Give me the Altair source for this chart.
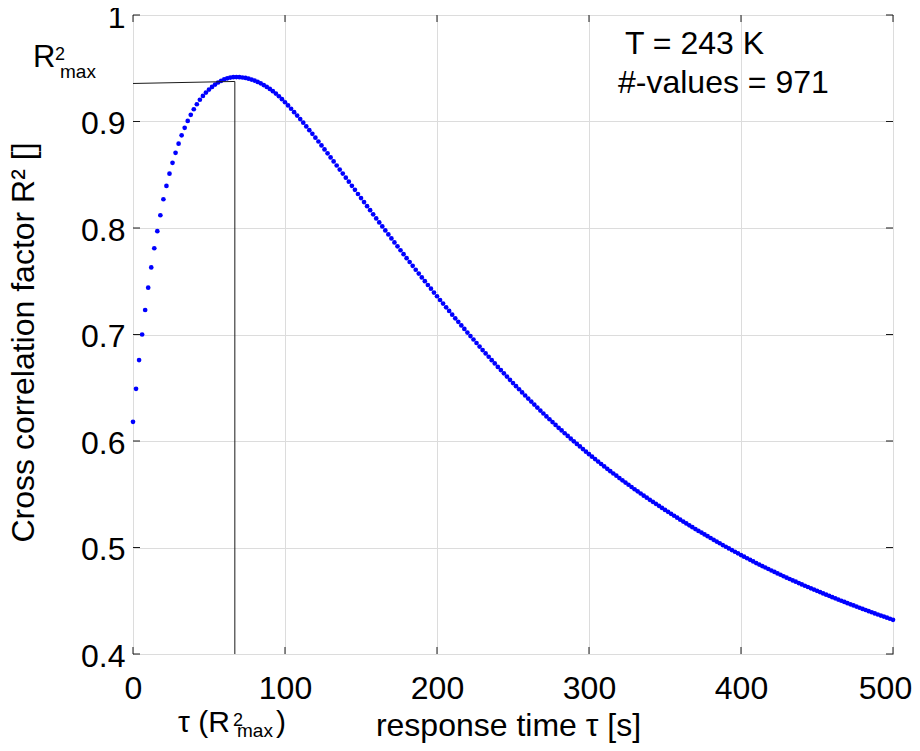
import altair as alt
import pandas as pd

# R^2, one dot every 2 s from tau = 0 to 500 s
r2 = [
    0.618, 0.649, 0.676, 0.700, 0.723, 0.744, 0.763, 0.781, 0.797, 0.812,
    0.827, 0.8395, 0.8510, 0.8612, 0.8706, 0.8792, 0.8870, 0.8941, 0.9005, 0.9063,
    0.9115, 0.9162, 0.9204, 0.9240, 0.9272, 0.9300, 0.9325, 0.9347, 0.9366, 0.9382,
    0.9395, 0.9405, 0.9412, 0.9416, 0.9417, 0.9416, 0.9413, 0.9409, 0.9402, 0.9394,
    0.9384, 0.9372, 0.9358, 0.9342, 0.9325, 0.9306, 0.9285, 0.9262, 0.9237, 0.9210,
    0.9181, 0.9151, 0.9120, 0.9088, 0.9056, 0.9023, 0.8989, 0.8954, 0.8919, 0.8884,
    0.8848, 0.8812, 0.8775, 0.8738, 0.8701, 0.8663, 0.8625, 0.8587, 0.8549, 0.8511,
    0.8473, 0.8435, 0.8396, 0.8358, 0.8319, 0.8281, 0.8243, 0.8205, 0.8167, 0.8128,
    0.8090, 0.8052, 0.8015, 0.7977, 0.7940, 0.7902, 0.7865, 0.7828, 0.7791, 0.7754,
    0.7717, 0.7681, 0.7645, 0.7608, 0.7572, 0.7536, 0.7501, 0.7465, 0.7430, 0.7394,
    0.7359, 0.7324, 0.7290, 0.7255, 0.7221, 0.7186, 0.7152, 0.7119, 0.7085, 0.7052,
    0.7018, 0.6985, 0.6953, 0.6920, 0.6887, 0.6854, 0.6822, 0.6791, 0.6759, 0.6728,
    0.6696, 0.6666, 0.6635, 0.6605, 0.6574, 0.6544, 0.6515, 0.6486, 0.6456, 0.6427,
    0.6398, 0.6370, 0.6342, 0.6314, 0.6286, 0.6258, 0.6231, 0.6204, 0.6178, 0.6151,
    0.6124, 0.6099, 0.6073, 0.6048, 0.6022, 0.5997, 0.5973, 0.5949, 0.5924, 0.5900,
    0.5876, 0.5853, 0.5830, 0.5807, 0.5784, 0.5761, 0.5739, 0.5717, 0.5695, 0.5674,
    0.5652, 0.5631, 0.5610, 0.5589, 0.5568, 0.5547, 0.5527, 0.5507, 0.5487, 0.5468,
    0.5448, 0.5429, 0.5410, 0.5391, 0.5372, 0.5353, 0.5335, 0.5316, 0.5298, 0.5280,
    0.5261, 0.5243, 0.5226, 0.5208, 0.5191, 0.5173, 0.5156, 0.5140, 0.5123, 0.5106,
    0.5089, 0.5072, 0.5056, 0.5040, 0.5023, 0.5007, 0.4991, 0.4976, 0.4960, 0.4945,
    0.4929, 0.4914, 0.4899, 0.4884, 0.4869, 0.4854, 0.4840, 0.4826, 0.4812, 0.4798,
    0.4784, 0.4771, 0.4757, 0.4744, 0.4730, 0.4717, 0.4704, 0.4691, 0.4679, 0.4666,
    0.4653, 0.4641, 0.4629, 0.4617, 0.4605, 0.4593, 0.4581, 0.4569, 0.4557, 0.4546,
    0.4534, 0.4523, 0.4511, 0.4500, 0.4489, 0.4477, 0.4466, 0.4456, 0.4445, 0.4434,
    0.4423, 0.4413, 0.4402, 0.4392, 0.4381, 0.4371, 0.4361, 0.4351, 0.4341, 0.4331,
    0.4321,
]
tau = [2 * i for i in range(len(r2))]

x_ticks = [0, 100, 200, 300, 400, 500]
y_ticks = [0.4, 0.5, 0.6, 0.7, 0.8, 0.9, 1.0]

tau_at_max = [67]
r2_max_line_left = [0.9357]
r2_max_line_right = [0.9376]
axis_floor = [0.4]

temperature_label = "T = 243 K"
count_label = "#-values = 971"

W, H = 760, 639
FONT = "Liberation Sans"
INK = "#1a1a1a"

xs = alt.Scale(domain=[0, 500], nice=False, zero=False)
ys = alt.Scale(domain=[0.4, 1.0], nice=False, zero=False)

x_axis = alt.Axis(
    values=x_ticks,
    title="response time τ [s]",
    grid=True,
    ticks=False,
    tickSize=0,
    domain=False,
    labelFontSize=32,
    labelPadding=19,
    labelOffset={"condition": {"test": "datum.value >= 500", "value": -8}, "value": 0},
    labelFlush=False,
    labelOverlap=False,
    titleFontSize=32,
    titleFontWeight="normal",
    titleX=375,
    titleY=81,
    titleBaseline="alphabetic",
    titleAlign="center",
)
y_axis = alt.Axis(
    values=y_ticks,
    format="~g",
    title="Cross correlation factor R² []",
    grid=True,
    ticks=False,
    tickSize=0,
    domain=False,
    labelFontSize=32,
    labelPadding=8,
    labelOffset=2,
    labelFlush=False,
    labelOverlap=False,
    titleFontSize=32,
    titleFontWeight="normal",
    titleAngle=270,
    titleX=-100,
    titleY=327,
    titleBaseline="alphabetic",
    titleAlign="center",
)

df = pd.DataFrame({"tau": tau, "r2": r2})

points = alt.Chart(df).mark_circle(size=22, color="#0000ff", opacity=1).encode(
    x=alt.X("tau:Q", scale=xs, axis=x_axis),
    y=alt.Y("r2:Q", scale=ys, axis=y_axis),
)

xt = pd.DataFrame({"v": x_ticks})
yt = pd.DataFrame({"v": y_ticks})
tick_len = 7

bottom_ticks = alt.Chart(xt).mark_rule(color=INK, strokeWidth=1).encode(
    x=alt.X("v:Q", scale=xs, axis=x_axis), y=alt.value(H), y2=alt.value(H - tick_len)
)
top_ticks = alt.Chart(xt).mark_rule(color=INK, strokeWidth=1).encode(
    x=alt.X("v:Q", scale=xs, axis=x_axis), y=alt.value(0), y2=alt.value(tick_len)
)
left_ticks = alt.Chart(yt).mark_rule(color=INK, strokeWidth=1).encode(
    y=alt.Y("v:Q", scale=ys, axis=y_axis), x=alt.value(0), x2=alt.value(tick_len)
)
right_ticks = alt.Chart(yt).mark_rule(color=INK, strokeWidth=1).encode(
    y=alt.Y("v:Q", scale=ys, axis=y_axis), x=alt.value(W), x2=alt.value(W - tick_len)
)

mx = pd.DataFrame({
    "x0": [0], "x1": tau_at_max,
    "yl": r2_max_line_left, "yr": r2_max_line_right, "yb": axis_floor,
})
hline = alt.Chart(mx).mark_rule(color=INK, strokeWidth=1).encode(
    x=alt.X("x0:Q", scale=xs, axis=x_axis),
    x2="x1:Q",
    y=alt.Y("yl:Q", scale=ys, axis=y_axis),
    y2="yr:Q",
)
vline = alt.Chart(mx).mark_rule(color=INK, strokeWidth=1).encode(
    x=alt.X("x1:Q", scale=xs, axis=x_axis),
    y=alt.Y("yb:Q", scale=ys, axis=y_axis),
    y2="yr:Q",
)

one = pd.DataFrame({"k": [0]})


def label(text, x, y, size):
    return alt.Chart(one).mark_text(
        text=text, font=FONT, fontSize=size, color="black",
        align="left", baseline="alphabetic",
    ).encode(x=alt.value(x), y=alt.value(y))


annotations = [
    label(temperature_label, 492, 39, 32),
    label(count_label, 485, 78, 32),
    # R^2_max beside the y axis
    label("R", -100, 52, 31),
    label("2", -78, 45, 18),
    label("max", -73, 63, 19),
    # tau(R^2_max) under the x axis
    label("τ (R", 45, 717, 30),
    label("2", 100, 711, 18),
    label("max", 104, 722, 19),
    label(")", 143, 717, 30),
]

chart = alt.layer(
    points, hline, vline, bottom_ticks, top_ticks, left_ticks, right_ticks, *annotations
).properties(
    width=W,
    height=H,
    padding={"left": 125, "top": 7, "right": 19, "bottom": 89},
    autosize=alt.AutoSizeParams(type="none"),
).configure_view(
    stroke=INK, strokeWidth=1
).configure_axis(
    labelFont=FONT, titleFont=FONT, labelColor="black", titleColor="black",
    gridColor="#dcdcdc", gridWidth=1,
)

chart.save("out.html", embed_options={"renderer": "svg", "actions": False})
